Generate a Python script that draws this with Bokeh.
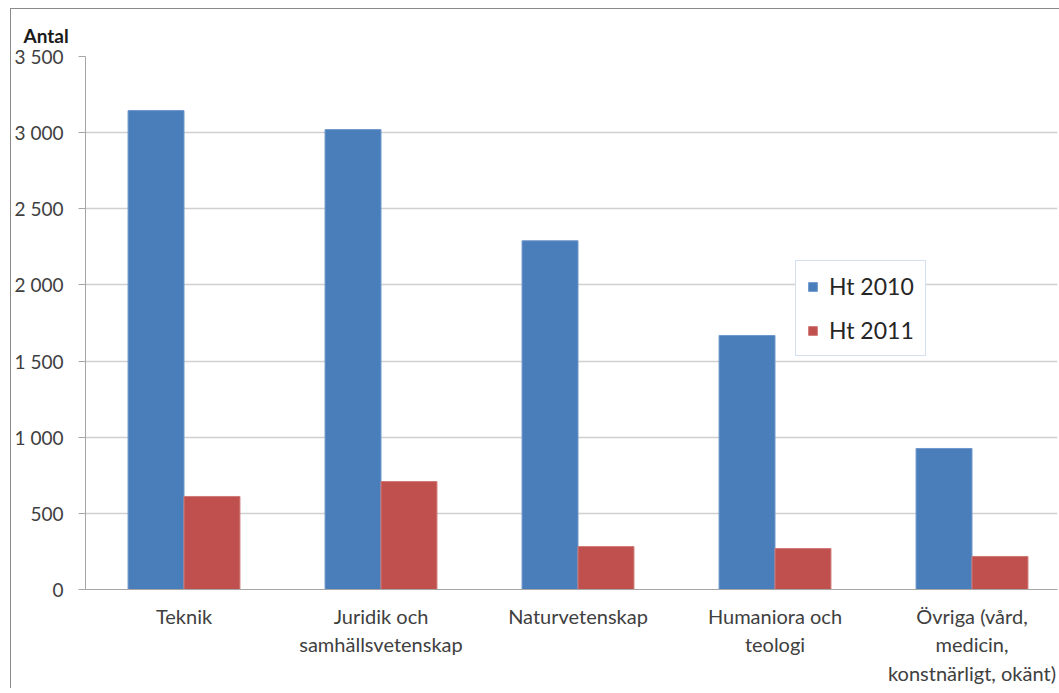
from bokeh.plotting import figure
from bokeh.models import Range1d, FixedTicker, Legend, LegendItem, Title
from bokeh.embed import file_html
from bokeh.resources import INLINE

categories = ["Teknik", "Juridik och\nsamhällsvetenskap", "Naturvetenskap",
              "Humaniora och\nteologi", "Övriga (vård,\nmedicin,\nkonstnärligt, okänt)"]
ht2010 = [3145, 3020, 2290, 1668, 926]
ht2011 = [611, 709, 282, 269, 217]
series_names = ["Ht 2010", "Ht 2011"]
y_ticks = [0, 500, 1000, 1500, 2000, 2500, 3000, 3500]
y_tick_labels = ["0", "500", "1 000", "1 500", "2 000", "2 500", "3 000", "3 500"]

FONT = "Lato"
BLUE = "#4a7ebb"
RED = "#c0504d"

n = len(categories)
centers = [i + 0.5 for i in range(n)]
bw = 0.284

p = figure(width=1049, height=685, output_backend="svg", toolbar_location=None,
           x_range=Range1d(0, 4.934), y_range=Range1d(0, 3500),
           frame_width=972, frame_height=533,
           min_border_left=73, min_border_top=47, min_border_right=3, min_border_bottom=10)
p.styles = {"border-top": "1px solid #8a8a8a", "border-left": "1px solid #8a8a8a",
            "margin-left": "10px", "margin-top": "8px"}
p.outline_line_color = None
p.background_fill_color = "white"
p.border_fill_color = "white"

r1 = p.vbar(x=[c - bw / 2 for c in centers], top=ht2010, width=bw, bottom=0,
            fill_color=BLUE, line_color="#6f98cc", line_width=1)
r2 = p.vbar(x=[c + bw / 2 for c in centers], top=ht2011, width=bw, bottom=0,
            fill_color=RED, line_color="#d07a78", line_width=1)

# y axis
p.yaxis.ticker = FixedTicker(ticks=y_ticks)
p.yaxis.major_label_overrides = {t: l for t, l in zip(y_ticks, y_tick_labels)}
p.yaxis.major_label_text_font = FONT
p.yaxis.major_label_text_font_size = "19px"
p.yaxis.major_label_text_color = "#404040"
p.yaxis.axis_line_color = "#a6a6a6"
p.yaxis.major_tick_line_color = "#a6a6a6"
p.yaxis.major_tick_out = 7
p.yaxis.major_tick_in = 0
p.yaxis.minor_tick_line_color = None
p.yaxis.major_label_standoff = 15

# x axis
p.xaxis.ticker = FixedTicker(ticks=centers)
p.xaxis.major_label_overrides = {c: l for c, l in zip(centers, categories)}
p.xaxis.major_label_text_font = FONT
p.xaxis.major_label_text_font_size = "20px"
p.xaxis.major_label_text_color = "#404040"
p.xaxis.axis_line_color = "#a6a6a6"
p.xaxis.major_tick_line_color = None
p.xaxis.minor_tick_line_color = None
p.xaxis.major_label_standoff = 8

p.xgrid.grid_line_color = None
p.ygrid.grid_line_color = "#d0d0d0"
p.ygrid.grid_line_width = 1.5

legend = Legend(items=[LegendItem(label=series_names[0], renderers=[r1]),
                       LegendItem(label=series_names[1], renderers=[r2])],
                location=(710, 233), orientation="vertical")
legend.label_text_font = FONT
legend.label_text_font_size = "23px"
legend.label_text_color = "#262626"
legend.glyph_width = 11
legend.glyph_height = 11
legend.label_height = 24
legend.spacing = 16
legend.padding = 11
legend.margin = 0
legend.label_standoff = 11
legend.border_line_color = "#a9c2e2"
legend.border_line_width = 1
legend.background_fill_color = "white"
legend.background_fill_alpha = 1
p.add_layout(legend, "center")

p.add_layout(Title(text="Antal", align="left", offset=-62, text_font=FONT,
                   text_font_size="19px", text_font_style="bold",
                   text_color="#1a1a1a", standoff=19), "above")

open("out.html", "w").write(file_html(p, INLINE))
